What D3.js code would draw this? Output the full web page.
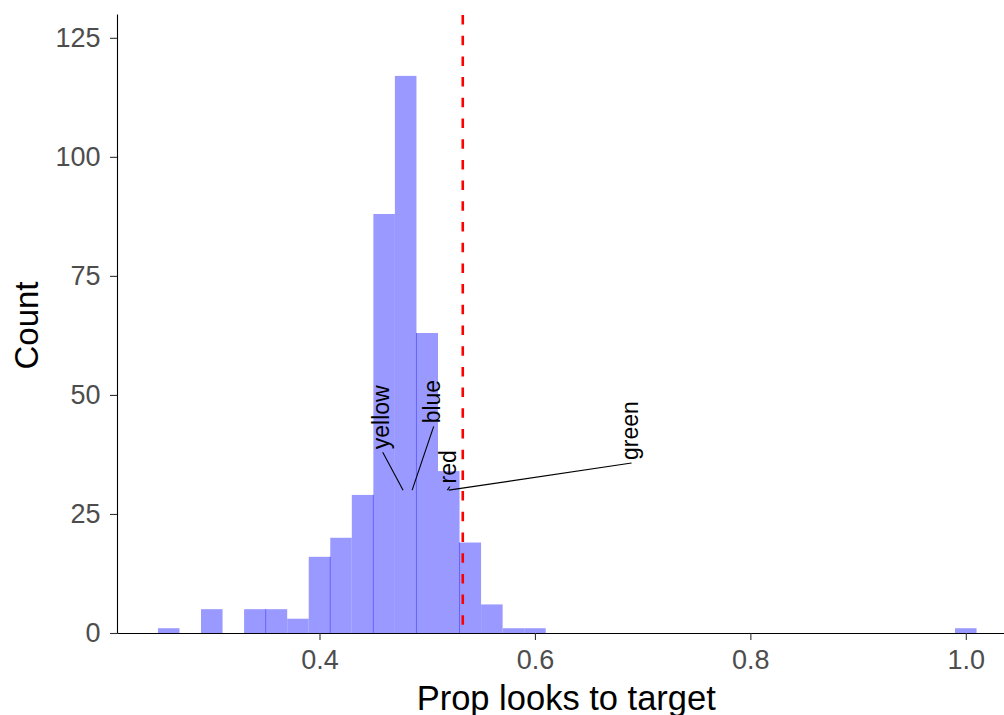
<!DOCTYPE html>
<html>
<head>
<meta charset="utf-8">
<script src="https://cdn.jsdelivr.net/npm/d3@7"></script>
<style>
  body { margin: 0; background: #fff; }
  svg { display: block; font-family: "Liberation Sans", Arial, sans-serif; }
</style>
</head>
<body>
<svg id="chart" width="1004" height="715"></svg>
<script>
// histogram bins (lower edge, width 0.02) and counts
var binWidth = 0.02;
var binLo = [0.25, 0.29, 0.33, 0.35, 0.37, 0.39, 0.41, 0.43, 0.45, 0.47, 0.49, 0.51, 0.53, 0.55, 0.57, 0.59, 0.99];
var counts = [1, 5, 5, 5, 3, 16, 20, 29, 88, 117, 63, 34, 19, 6, 1, 1, 1];
// faint darker seams visible between some bars
var seamEdges = [0.35, 0.41, 0.45, 0.49, 0.53];

// reference line
var targetLine = 0.533;

// repelled labels: point position and label centre
var labelNames = ["yellow", "blue", "red", "green"];
var pointX = [0.4776, 0.486, 0.5187, 0.520];
var pointY = [30, 30, 30, 30];
var textX = [0.4587, 0.506, 0.521, 0.6897];
var textY = [45.3, 48.6, 34.9, 42.5];

var xTicks = [0.4, 0.6, 0.8, 1.0];
var yTicks = [0, 25, 50, 75, 100, 125];

(function () {
  var svg = d3.select("#chart");
  var mLeft = 117, mTop = 14, mBottom = 633, mRight = 1017.5;

  var x = d3.scaleLinear().domain([0.212, 1.048]).range([mLeft, mRight]);
  var y = d3.scaleLinear().domain([0, 130]).range([mBottom, mTop]);

  var bins = binLo.map(function (d, i) { return { lo: d, n: counts[i] }; });

  // bars
  svg.append("g").selectAll("rect")
    .data(bins).enter().append("rect")
    .attr("x", function (d) { return x(d.lo); })
    .attr("width", function (d) { return x(d.lo + binWidth) - x(d.lo); })
    .attr("y", function (d) { return y(d.n); })
    .attr("height", function (d) { return y(0) - y(d.n); })
    .attr("fill", "#9999ff");

  // seams
  svg.append("g").selectAll("line")
    .data(seamEdges).enter().append("line")
    .attr("x1", function (d) { return x(d); })
    .attr("x2", function (d) { return x(d); })
    .attr("y1", function (d) {
      var i = binLo.findIndex(function (b) { return Math.abs(b - d) < 1e-9; });
      var j = binLo.findIndex(function (b) { return Math.abs(b + binWidth - d) < 1e-9; });
      return y(Math.min(counts[i], counts[j]));
    })
    .attr("y2", y(0))
    .attr("stroke", "#6262ff")
    .attr("stroke-width", 1);

  // axes
  var xAxis = svg.append("g")
    .attr("transform", "translate(0," + mBottom + ")")
    .call(d3.axisBottom(x).tickValues(xTicks).tickFormat(d3.format(".1f"))
      .tickSize(7).tickSizeOuter(0).tickPadding(10));
  var yAxis = svg.append("g")
    .attr("transform", "translate(" + mLeft + ",0)")
    .call(d3.axisLeft(y).tickValues(yTicks).tickSize(7).tickSizeOuter(0).tickPadding(9.5));

  [xAxis, yAxis].forEach(function (a) {
    a.select(".domain").attr("stroke", "#000").attr("stroke-width", 1.1);
    a.selectAll(".tick line").attr("stroke", "#333").attr("stroke-width", 1.1);
    a.selectAll(".tick text")
      .attr("fill", "#4d4d4d")
      .style("font-size", "27px")
      .style("font-family", "'Liberation Sans', Arial, sans-serif");
  });

  // dashed vertical line
  svg.append("line")
    .attr("x1", x(targetLine)).attr("x2", x(targetLine))
    .attr("y1", mTop).attr("y2", mBottom)
    .attr("stroke", "#ff0000")
    .attr("stroke-width", 2.6)
    .attr("stroke-dasharray", "9.5,11.2")
    .attr("stroke-dashoffset", -1);

  // labels with leader segments
  var lab = svg.append("g");
  labelNames.forEach(function (name, i) {
    var cx = x(textX[i]), cy = y(textY[i]);
    var t = lab.append("text")
      .attr("transform", "translate(" + (cx + 6) + "," + cy + ") rotate(-90)")
      .attr("text-anchor", "middle")
      .style("font-size", "23px")
      .attr("fill", "#000")
      .text(name);
    var len = t.node().getComputedTextLength();
    lab.append("line")
      .attr("x1", x(pointX[i])).attr("y1", y(pointY[i]))
      .attr("x2", cx).attr("y2", cy + len / 2 + 3)
      .attr("stroke", "#000")
      .attr("stroke-width", 1.1);
  });

  // axis titles
  svg.append("text")
    .attr("transform", "translate(38," + ((mTop + mBottom) / 2 + 2) + ") rotate(-90)")
    .attr("text-anchor", "middle")
    .style("font-size", "33px")
    .text("Count");
  svg.append("text")
    .attr("x", (mLeft + mRight) / 2 - 1)
    .attr("y", 710)
    .attr("text-anchor", "middle")
    .style("font-size", "34.5px")
    .text("Prop looks to target");
})();
</script>
</body>
</html>
